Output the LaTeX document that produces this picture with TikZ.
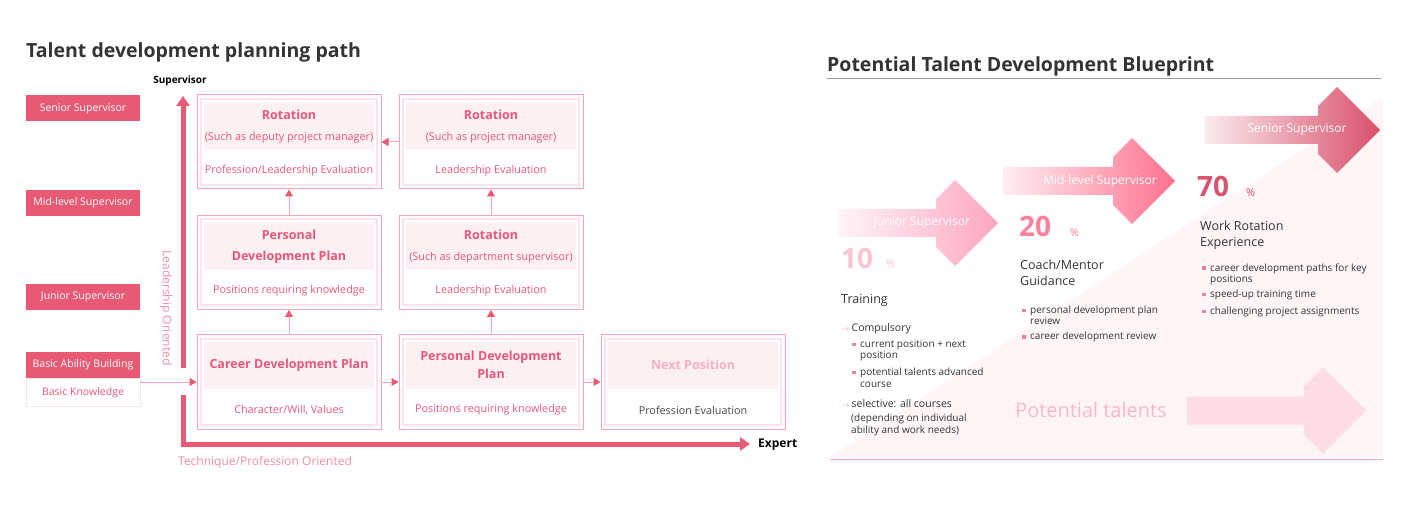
\documentclass[tikz,border=0pt]{standalone}
\usepackage{fontspec}
\setmainfont{Open Sans}
\usetikzlibrary{arrows.meta,positioning}

\definecolor{mainpink}{HTML}{E85A74}
\definecolor{textpink}{HTML}{E8577A}
\definecolor{lightpink}{HTML}{F4A6B7}
\definecolor{framepink}{HTML}{FCE4EA}
\definecolor{headpink}{HTML}{FDF0F3}
\definecolor{axispink}{HTML}{EE8FA3}
\definecolor{nextpink}{HTML}{FBAFC6}
\definecolor{darktext}{HTML}{333333}
\definecolor{junior}{HTML}{FDA6C0}
\definecolor{midlevel}{HTML}{FF718F}
\definecolor{senior}{HTML}{D9506C}
\definecolor{bgpink}{HTML}{FFF5F7}
\definecolor{talentpink}{HTML}{FDDCE5}
\definecolor{talenttext}{HTML}{FDB7CC}
\definecolor{pctten}{HTML}{FCC4D3}
\definecolor{pcttwenty}{HTML}{FF7F9B}
\definecolor{pctseventy}{HTML}{D9526E}

\newcommand\planttl[1]{{\fontsize{12.5}{15}\selectfont\bfseries #1}}
\newcommand\sqbul{\textcolor{mainpink!75}{\rule[1.5pt]{3.5pt}{3.5pt}}\hspace{4.5pt}}
\newcommand\smarrow{\textcolor{mainpink!65}{\fontsize{8}{8}\selectfont$\rightarrow$}\hspace{2pt}}
% stage arrow: body left, centre y, head x, fill
\newcommand\stagearrow[4]{%
  \path[#4] ({#1},{#2-14}) -- ({#3-19},{#2-14}) -- ({#3-19},{#2-24}) -- ({#3},{#2-43})
    -- ({#3+43},{#2}) -- ({#3},{#2+43}) -- ({#3-19},{#2+24}) -- ({#3-19},{#2+14})
    -- ({#1},{#2+14}) -- cycle;}

\begin{document}
\begin{tikzpicture}[x=1pt, y=-1pt,
    level/.style={fill=mainpink, text=white, minimum width=114pt, minimum height=26pt, inner sep=0pt, font=\fontsize{10.5}{12}\selectfont},
    levelbase/.style={draw=framepink, fill=white, text=textpink, minimum width=114pt, minimum height=28pt, inner sep=0pt, font=\fontsize{10.5}{12}\selectfont},
    planbox/.style={draw=lightpink, line width=1pt, minimum width=184pt, minimum height=94pt, inner sep=0pt,
      path picture={\draw[framepink, line width=2pt]
        ([shift={(4pt,4pt)}]path picture bounding box.south west) rectangle
        ([shift={(-4pt,-4pt)}]path picture bounding box.north east);}},
    planhead/.style={fill=headpink, minimum width=170pt, minimum height=47pt, inner sep=0pt, align=center, text=textpink, font=\fontsize{10.8}{13}\selectfont},
    plannote/.style={text=textpink, inner sep=0pt, font=\fontsize{10.8}{13}\selectfont},
    link/.style={draw=lightpink, line width=1pt, -{Triangle[width=8pt,length=7pt,color=mainpink]}},
    axis/.style={draw=mainpink, line width=5pt, -{Triangle[width=13pt,length=10pt]}},
    axislabel/.style={text=axispink, inner sep=0pt, font=\fontsize{12}{15}\selectfont},
    heading/.style={anchor=base west, inner sep=0pt, text=darktext, font=\fontsize{19.5}{24}\selectfont\bfseries},
    stagelabel/.style={text=white, inner sep=0pt, font=\fontsize{12}{14}\selectfont},
    pct/.style={anchor=base west, inner sep=0pt, font=\fontsize{28}{32}\selectfont\bfseries},
    pctsign/.style={anchor=base west, inner sep=0pt, font=\fontsize{11}{14}\selectfont},
    listhead/.style={anchor=base west, align=left, inner sep=0pt, text=darktext, font=\fontsize{12.5}{16.5}\selectfont},
    listitem/.style={anchor=base west, align=left, inner sep=0pt, text=darktext, font=\fontsize{10}{11.5}\selectfont}
  ]
\useasboundingbox (0,0) rectangle (1418,518);

% left: planning path
\node[heading] (pathtitle) at (26,58) {Talent development planning path};

\node[level] (senior) at (83,108.5) {Senior Supervisor};
\node[level] (midlevel) at (83,203) {Mid-level Supervisor};
\node[level] (junior) at (83,297) {Junior Supervisor};
\node[level] (basic) at (83,365) {Basic Ability Building};
\node[levelbase, below=0pt of basic] (knowledge) {Basic Knowledge};

\coordinate (origin) at (183,444);
\coordinate (gapbot) at (183,395);
\coordinate (gaptop) at (183,368);
\coordinate (ytip) at (183,96);
\coordinate (xtip) at (750,444);
\draw[axis] (gapbot) -- (origin) -- (xtip);
\draw[axis] (gaptop) -- (ytip);
\node[inner sep=0pt, font=\fontsize{10}{12}\selectfont\bfseries] (ylabel) at (180,81) {Supervisor};
\node[anchor=west, inner sep=0pt, font=\fontsize{12}{14}\selectfont\bfseries] (xlabel) at (758,445) {Expert};
\node[axislabel, rotate=-90] (leadlabel) at (166,308) {Leadership Oriented};
\node[axislabel, anchor=west] (techlabel) at (178,462) {Technique/Profession Oriented};

\node[planbox] (rotdeputy) at (289,142) {};
\node[planhead, below=8pt of rotdeputy.north] {\planttl{Rotation}\\[8pt](Such as deputy project manager)};
\node[plannote] at ([yshift=-29pt]rotdeputy.center) {Profession/Leadership Evaluation};

\node[planbox] (rotpm) at (491,142) {};
\node[planhead, below=8pt of rotpm.north] {\planttl{Rotation}\\[8pt](Such as project manager)};
\node[plannote] at ([yshift=-29pt]rotpm.center) {Leadership Evaluation};

\node[planbox] (pdpmid) at (289,262.5) {};
\node[planhead, below=8pt of pdpmid.north] {\planttl{Personal}\\[8pt]\planttl{Development Plan}};
\node[plannote] at ([yshift=-28.5pt]pdpmid.center) {Positions requiring knowledge};

\node[planbox] (rotdept) at (491,262.5) {};
\node[planhead, below=8pt of rotdept.north] {\planttl{Rotation}\\[8pt](Such as department supervisor)};
\node[plannote] at ([yshift=-28.5pt]rotdept.center) {Leadership Evaluation};

\node[planbox] (career) at (289,382) {};
\node[planhead, below=7pt of career.north] {\planttl{Career Development Plan}};
\node[plannote] at ([yshift=-28pt]career.center) {Character/Will, Values};

\node[planbox] (pdpbase) at (491,382) {};
\node[planhead, below=7pt of pdpbase.north] {\planttl{Personal Development}\\[5pt]\planttl{Plan}};
\node[plannote] at ([yshift=-28pt]pdpbase.center) {Positions requiring knowledge};

\node[planbox] (nextpos) at (693,382) {};
\node[planhead, text=nextpink, below=7pt of nextpos.north] {\planttl{Next Position}};
\node[plannote, text=darktext!90] at ([yshift=-28pt]nextpos.center) {Profession Evaluation};

\draw[link] (knowledge.east |- career.west) -- (career.west);
\draw[link] (career) -- (pdpbase);
\draw[link] (pdpbase) -- (nextpos);
\draw[link] (career) -- (pdpmid);
\draw[link] (pdpmid) -- (rotdeputy);
\draw[link] (pdpbase) -- (rotdept);
\draw[link] (rotdept) -- (rotpm);
\draw[link] (rotpm) -- (rotdeputy);

% right: blueprint
\fill[bgpink] (830,457) -- (1383,97) -- (1383,457) -- cycle;
\draw[black!40, line width=1pt] (827,79) -- (1381,79);
\draw[mainpink!50, line width=1pt] (830,459) -- (1383,459);
\node[heading] (printtitle) at (827,72) {Potential Talent Development Blueprint};

\stagearrow{838}{223}{955}{left color=junior!12, middle color=junior!90, right color=junior}
\stagearrow{1003}{181}{1132}{left color=midlevel!12, middle color=midlevel!85, right color=midlevel}
\stagearrow{1205}{130}{1337}{left color=senior!12, middle color=senior!75, right color=senior}
\stagearrow{1187}{410.5}{1323}{fill=talentpink}
\node[stagelabel] (juniorarrow) at (922,223) {Junior Supervisor};
\node[stagelabel] (midarrow) at (1100,181) {Mid-level Supervisor};
\node[stagelabel] (seniorarrow) at (1297,130) {Senior Supervisor};
\node[anchor=base west, inner sep=0pt, text=talenttext, font=\fontsize{20}{22}\selectfont] (talents) at (1015,417) {Potential talents};

\node[pct, text=pctten] (ten) at (841,269) {10};
\node[pctsign, text=pctten] at (886,268) {\%};
\node[pct, text=pcttwenty] (twenty) at (1019,237) {20};
\node[pctsign, text=pcttwenty] at (1070,237) {\%};
\node[pct, text=pctseventy] (seventy) at (1197,197) {70};
\node[pctsign, text=pctseventy] at (1246,197) {\%};

\node[listhead] (training) at (841,304) {Training};
\node[listitem, font=\fontsize{10.5}{13}\selectfont] at (841,332) {\smarrow Compulsory};
\node[listitem] at (852,359) {\sqbul current position + next\\\hspace*{8pt}position};
\node[listitem] at (852,387) {\sqbul potential talents advanced\\\hspace*{8pt}course};
\node[listitem, font=\fontsize{10.5}{13}\selectfont] at (841,407) {\smarrow selective: all courses};
\node[listitem] at (851,433) {(depending on individual\\ability and work needs)};

\node[listhead] (coach) at (1020,286) {Coach/Mentor\\Guidance};
\node[listitem] at (1022,325) {\sqbul personal development plan\\\hspace*{8pt}review};
\node[listitem] at (1022,340) {\sqbul career development review};

\node[listhead] (rotation) at (1200,247) {Work Rotation\\Experience};
\node[listitem] at (1202,283) {\sqbul career development paths for key\\\hspace*{8pt}positions};
\node[listitem] at (1202,298) {\sqbul speed-up training time};
\node[listitem] at (1202,315) {\sqbul challenging project assignments};
\end{tikzpicture}
\end{document}
